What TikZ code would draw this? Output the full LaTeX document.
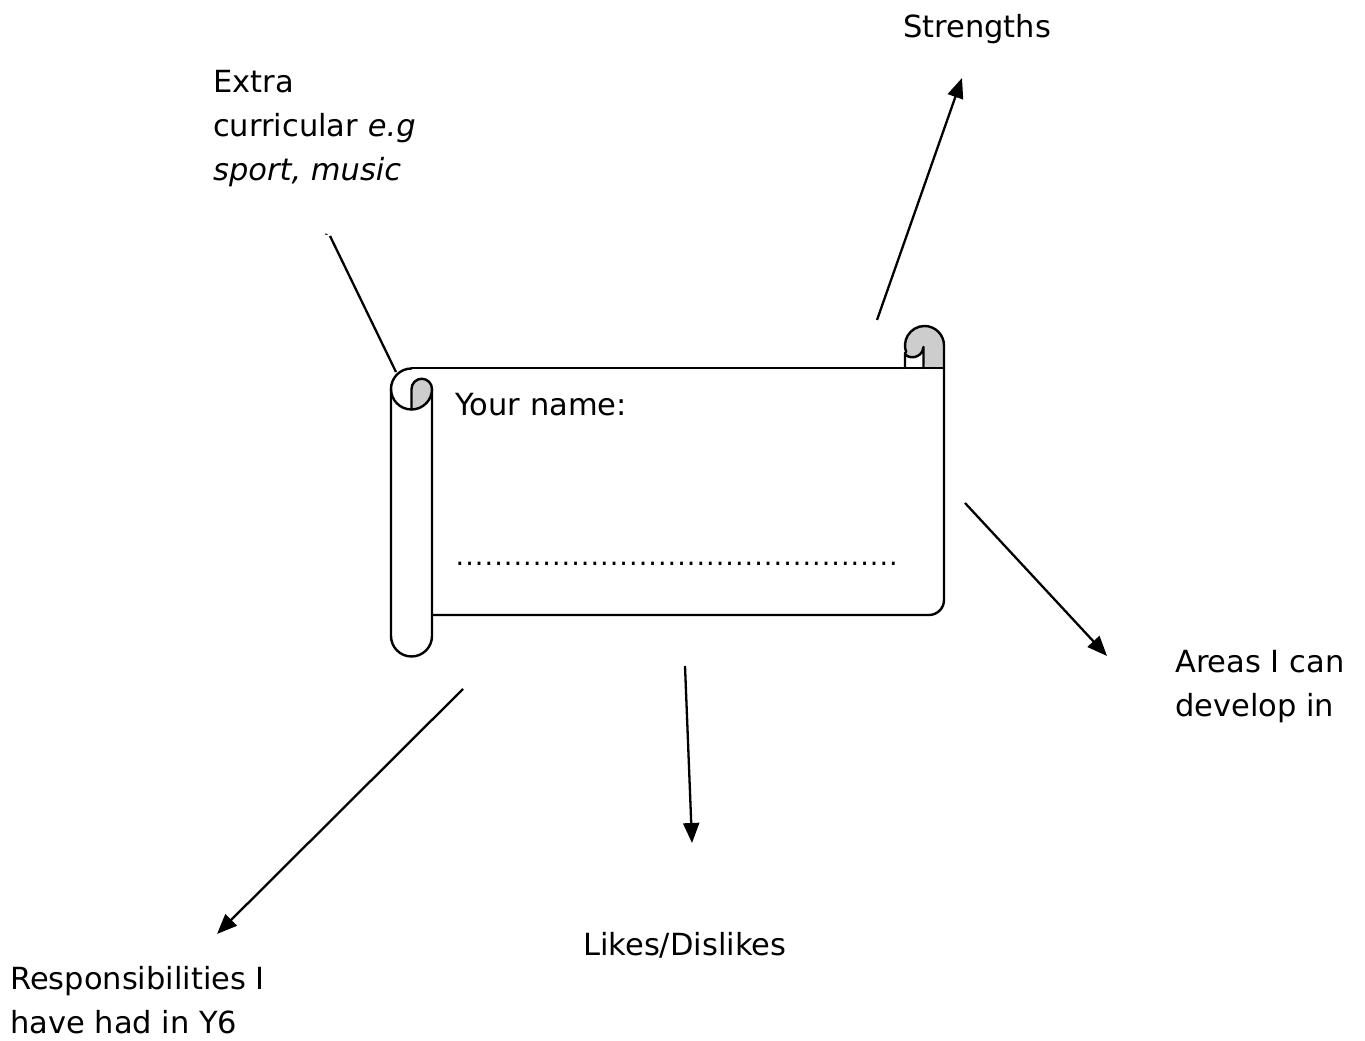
\documentclass[tikz,border=0pt]{standalone}
\usepackage{fontspec}
\setmainfont{DejaVu Sans}
\usetikzlibrary{arrows.meta}
\definecolor{rollgrey}{RGB}{205,205,205}
\tikzset{
  lbl/.style={anchor=base west, inner sep=0pt, align=left, font=\fontsize{30.5}{44}\selectfont},
  link/.style={line width=2.3pt, -{Triangle[length=20pt,width=16pt]}},
  plainlink/.style={line width=2.3pt},
  outline/.style={line width=2.4pt, line join=round, line cap=round},
}
\begin{document}
\begin{tikzpicture}[x=1pt,y=1pt]
\useasboundingbox (0,0) rectangle (1365,1041);
% ---------- scroll ----------
% right roll grey back
\fill[rollgrey] (924.5,695.5) circle[radius=19.5pt];
\fill[rollgrey] (924.5,673) rectangle (944,695.5);
% white tongue on the right
\filldraw[outline, fill=white] (905,673) -- (905,688) .. controls (906,682) and (922,681) .. (923.5,694) -- (923.5,673);
% right roll outline
\draw[outline] (944,695.5) arc[start angle=0, end angle=200, radius=19.5pt];
% body
\draw[outline] (411.5,673) -- (944,673);
\draw[outline] (944,695.5) -- (944,441) arc[start angle=0, end angle=-90, radius=15pt] -- (432,426);
% left roll
\draw[outline] (391,652) -- (391,405) arc[start angle=180, end angle=360, radius=20.5pt] -- (432,652);
\draw[outline] (411.5,672.5) arc[start angle=90, end angle=270, radius=20.5pt];
\filldraw[outline, fill=rollgrey] (411.5,631.5) -- (411.5,652) arc[start angle=180, end angle=0, radius=10.25pt] arc[start angle=0, end angle=-90, radius=20.5pt] -- cycle;
\coordinate (leftcurl) at (396,669);
% ---------- texts ----------
\node[lbl] (name) at (455,625) {Your name:};
\node[lbl, font=\fontsize{27}{30}\selectfont] (dots) at (455,475) {\hbox to 443pt{\xleaders\hbox to 9.63pt{\hss.\hss}\hfill}};
\node[lbl] (strengths) at (903,1003) {Strengths};
\node[lbl] (extra) at (213,860) {Extra\\curricular \textit{e.g}\\\textit{sport, music}};
\node[lbl] (areas) at (1175,324) {Areas I can\\develop in};
\node[lbl] (likes) at (583,85) {Likes/Dislikes};
\node[lbl] (resp) at (10,7) {Responsibilities I\\have had in Y6};
% ---------- connectors ----------
\coordinate (sS) at (877,721); \coordinate (sE) at (962,963);
\coordinate (eS) at (330,805);
\coordinate (aS) at (965,538); \coordinate (aE) at (1107,385);
\coordinate (lS) at (685,375); \coordinate (lE) at (692,198);
\coordinate (rS) at (463,352); \coordinate (rE) at (217,107);
\draw[link] (sS) -- (sE);
\draw[plainlink] (eS) -- (leftcurl);
\draw[line width=1pt] (325,807) -- (327.5,806.5);
\draw[link] (aS) -- (aE);
\draw[link] (lS) -- (lE);
\draw[link] (rS) -- (rE);
\end{tikzpicture}
\end{document}
